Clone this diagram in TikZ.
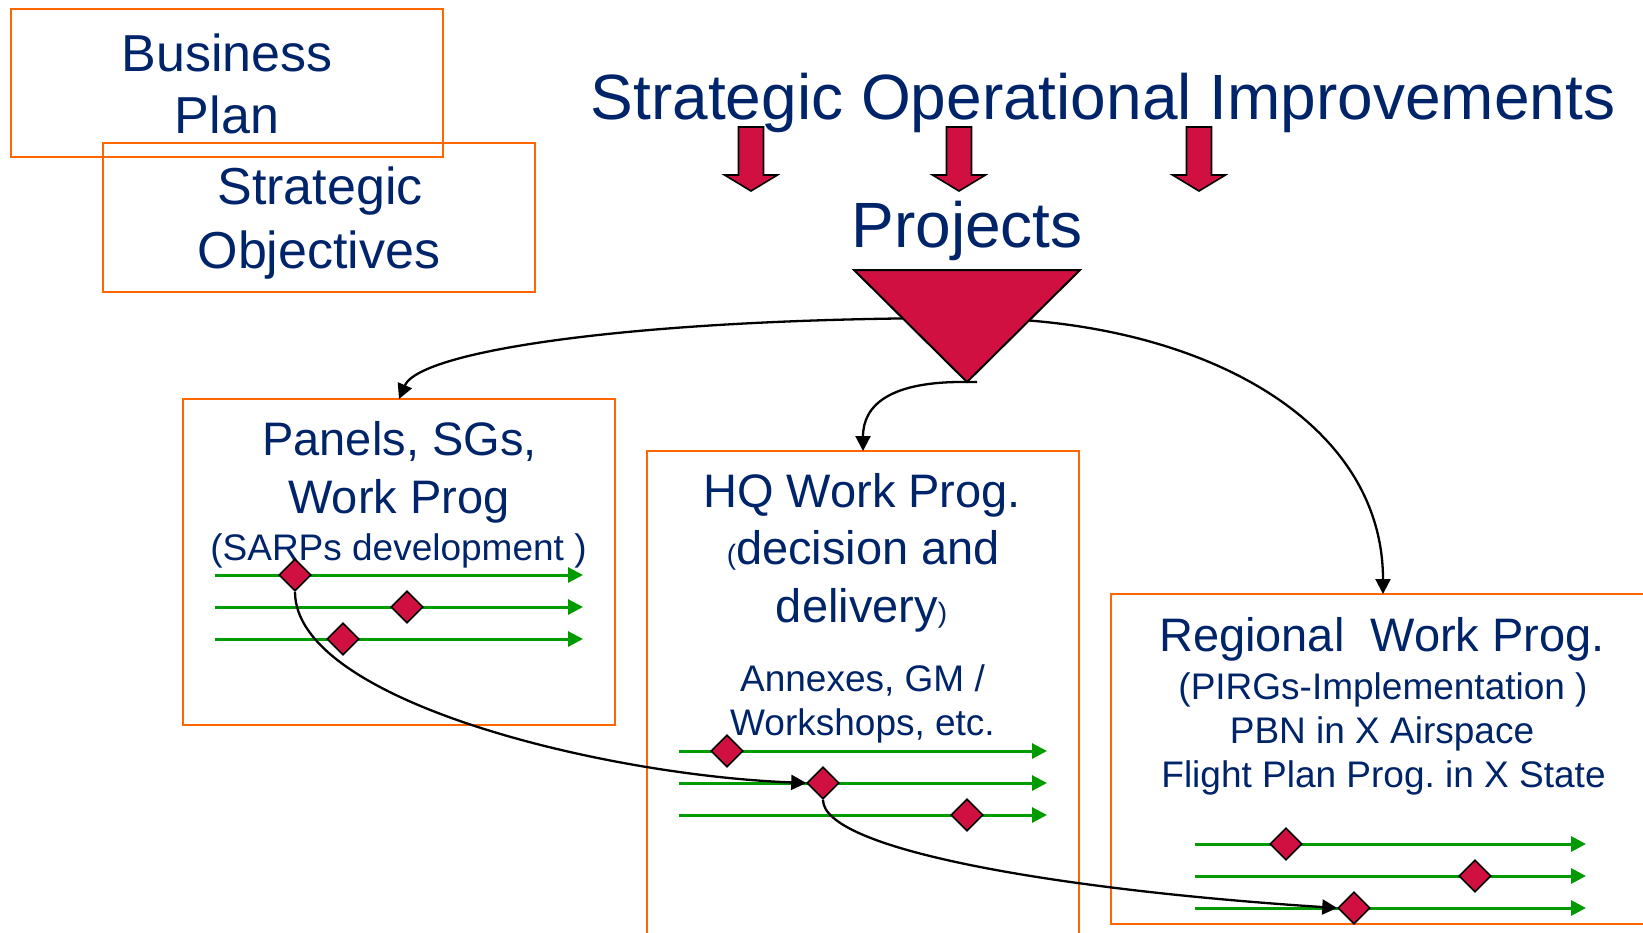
\documentclass[tikz,border=0pt]{standalone}
\usepackage{fontspec}
\setmainfont{Liberation Sans}
\usetikzlibrary{arrows.meta,shapes.geometric}
\definecolor{navy}{RGB}{0,36,105}
\definecolor{boxorange}{RGB}{255,102,0}
\definecolor{crimson}{RGB}{208,16,64}
\definecolor{trackgreen}{RGB}{0,155,0}
\begin{document}
\frenchspacing
\begin{tikzpicture}[x=1pt,y=-1pt,
  frame/.style={draw=boxorange,line width=2.2pt,rectangle,inner sep=0pt,outer sep=0pt},
  lbl/.style={text=navy,anchor=base,inner sep=0pt},
  fxl/.style={lbl,font=\fontsize{64}{64}\selectfont},
  fl/.style={lbl,font=\fontsize{52}{52}\selectfont},
  fm/.style={lbl,font=\fontsize{47}{47}\selectfont},
  fs/.style={lbl,font=\fontsize{37}{37}\selectfont},
  milestone/.style={diamond,draw=black,fill=crimson,line width=1.6pt,inner sep=0pt,
    minimum width=32pt,minimum height=32pt},
  track/.style={draw=trackgreen,line width=3pt,-{Triangle[length=15pt,width=15pt]}},
  link/.style={draw=black,line width=2.3pt,-{Triangle[length=15pt,width=15pt]}},
  block/.style={fill=crimson,draw=black,line width=1.6pt,line join=miter}
]
\useasboundingbox (0,0) rectangle (1643,932);
\clip (0,0) rectangle (1643,932);

% framed boxes
\node[frame,minimum width=432pt,minimum height=148pt] (bpbox) at (227,83) {};
\node[frame,minimum width=432pt,minimum height=149pt] (sobox) at (319,217.5) {};
\node[frame,minimum width=432pt,minimum height=326pt] (panelsbox) at (399,562) {};
\node[frame,minimum width=432pt,minimum height=560pt] (hqbox) at (863,731) {};
\node[frame,minimum width=544pt,minimum height=330pt] (regbox) at (1383,759) {};

% top-left labels
\node[fl] (bp1) at (227,71) {Business};
\node[fl] (bp2) at (227,133) {Plan};
\node[fl] (so1) at (320,204) {Strategic};
\node[fl] (so2) at (319,268) {Objectives};

% headline and projects
\node[fxl] (title) at (1103,119) {Strategic Operational Improvements};
\node[fxl] (projects) at (967,247) {Projects};

% panels box text
\node[fm] (pa1) at (399.5,455) {Panels, SGs,};
\node[fm] (pa2) at (399,513) {Work Prog};
\node[fs] (pa3) at (398.5,560) {(SARPs development )};

% HQ box text
\node[fm] (hq1) at (862,507) {HQ Work Prog.};
\node[fm] (hq2) at (863.5,564) {{\fontsize{28}{28}\selectfont(}decision and};
\node[fm] (hq3) at (861.5,622) {delivery{\fontsize{28}{28}\selectfont)}};
\node[fs] (hq4) at (862.5,691) {Annexes, GM /};
\node[fs] (hq5) at (862.5,735) {Workshops, etc.};

% regional box text
\node[fm] (rg1) at (1382,651) {Regional\ \ Work Prog.};
\node[fs] (rg2) at (1383,699) {(PIRGs-Implementation )};
\node[fs] (rg3) at (1382,743) {PBN in X Airspace};
\node[fs] (rg4) at (1383.5,787) {Flight Plan Prog. in X State};

% links fanning out from behind the projects funnel
\coordinate (hub) at (967,318);
\draw[link] (hub) .. controls (640,318) and (420,350) .. (panelsbox.north);
\draw[link] (hub) .. controls (1200,318) and (1383,420) .. (regbox.north);

% projects funnel
\coordinate (fl) at (854,270);
\coordinate (fr) at (1080,270);
\coordinate (ftip) at (967,382);
\draw[block,line width=2pt] (fl) -- (fr) -- (ftip) -- cycle;
\coordinate (tipstart) at (977,382);
\draw[link] (tipstart) -- (ftip) .. controls (890,381) and (863,405) .. (hqbox.north);

% block arrows under the headline
\foreach \x in {751,959,1199}
  \draw[block] ({\x-12.5},127) -- ({\x+12.5},127) -- ({\x+12.5},175) -- ({\x+26.5},175)
    -- (\x,191) -- ({\x-26.5},175) -- ({\x-12.5},175) -- cycle;

% timelines
\foreach \y [count=\i] in {575,607,639} {
  \coordinate (ps\i) at (215,\y); \coordinate (pe\i) at (583,\y);
  \draw[track] (ps\i) -- (pe\i);
}
\foreach \y [count=\i] in {751,783,815} {
  \coordinate (hs\i) at (679,\y); \coordinate (he\i) at (1047,\y);
  \draw[track] (hs\i) -- (he\i);
}
\foreach \y [count=\i] in {844,876,908} {
  \coordinate (rs\i) at (1195,\y); \coordinate (re\i) at (1586,\y);
  \draw[track] (rs\i) -- (re\i);
}

% milestones
\node[milestone] (pd1) at (295,575) {};
\node[milestone] (pd2) at (407,607) {};
\node[milestone] (pd3) at (343,639) {};
\node[milestone] (hd1) at (727,751) {};
\node[milestone] (hd2) at (823,783) {};
\node[milestone] (hd3) at (967,815) {};
\node[milestone] (rd1) at (1286,844) {};
\node[milestone] (rd2) at (1475,876) {};
\node[milestone] (rd3) at (1354,908) {};

% dependencies between milestones
\draw[link] (pd1.south) .. controls (295,700) and (600,775) .. (hd2.west);
\draw[link] (hd2.south) .. controls (823,850) and (1060,890) .. (rd3.west);
\end{tikzpicture}
\end{document}
